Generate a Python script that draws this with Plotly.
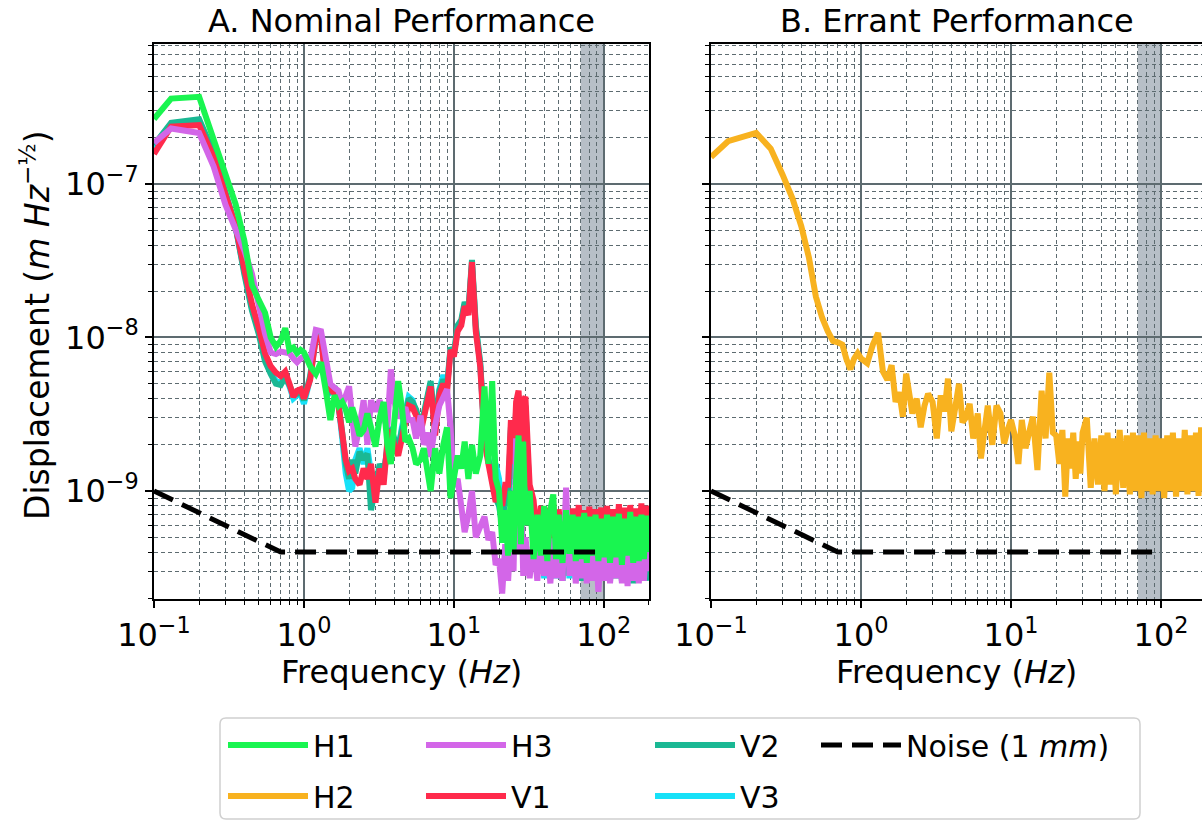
import math
import plotly.graph_objects as go

# ---------------- data ----------------
FREQ = [
    0.1, 0.13, 0.2, 0.25, 0.3, 0.35, 0.4, 0.45, 0.5, 0.55, 0.6, 0.65, 0.7, 0.75, 0.8,
    0.85, 0.9, 0.95, 1.0, 1.1, 1.2, 1.3, 1.4, 1.5, 1.6, 1.7, 1.8, 1.9, 2.0,
    2.1, 2.2, 2.35, 2.5, 2.65, 2.8, 3.0, 3.2, 3.4, 3.6, 3.8, 4.0, 4.25, 4.5, 4.75,
    5.0, 5.3, 5.6, 6.0, 6.3, 6.7, 7.0, 7.5, 8.0, 8.5, 9.0, 9.5, 10, 10.6, 11.2, 11.8,
    12.5, 13.2, 14, 15, 16, 17, 18, 19,
    20, 21, 22, 23, 24, 25, 26, 27, 28, 29, 30,
    32, 34, 36, 38, 40, 42, 44, 46, 48, 50,
    53, 56, 59, 62, 65, 68, 71, 74, 77, 80,
    84, 88, 92, 96, 100,
    105, 110, 115, 120,
    126, 132, 138, 144, 150,
    157, 164, 171, 178, 185, 192, 200,
]

H1 = [
    2.65e-7, 3.6e-7, 3.7e-7, 2.0e-7, 1.2e-7, 7.4e-8, 4.3e-8, 2.2e-8, 1.75e-8, 1.45e-8,
    1.0e-8, 8.7e-9, 9.5e-9, 1.15e-8, 8.3e-9, 8.6e-9, 7.9e-9, 8.3e-9, 8.0e-9, 6.5e-9,
    5.8e-9, 6.9e-9, 4.5e-9, 2.9e-9, 4.2e-9, 3.6e-9, 3.8e-9, 3.4e-9, 2.8e-9,
    3.5e-9, 3.0e-9, 2.3e-9, 2.5e-9, 3.2e-9, 2.6e-9, 1.95e-9, 3.0e-9, 3.8e-9, 2.0e-9,
    1.5e-9, 2.8e-9, 5.2e-9, 3.5e-9, 2.1e-9, 2.2e-9, 1.9e-9, 1.5e-9, 1.6e-9, 1.9e-9,
    1.3e-9, 1.0e-9, 1.9e-9, 1.3e-9, 2.0e-9, 2.6e-9, 9.0e-10, 1.3e-9, 1.7e-9, 1.4e-9,
    2.1e-9, 1.2e-9, 2.0e-9, 1.3e-9, 1.7e-9, 4.8e-9, 1.5e-9, 5.2e-9, 1.2e-9,
    1.0e-9, 4.6e-10, 7.5e-10, 3.8e-10, 1.0e-9, 4.0e-10, 1.2e-9, 2.3e-9, 4.5e-10, 2.1e-9, 6.0e-10,
    1.0e-9, 3.6e-10, 7.0e-10, 3.8e-10, 8.0e-10, 3.5e-10, 7.5e-10, 9.5e-10, 3.6e-10, 7.0e-10,
    3.4e-10, 7.5e-10, 3.9e-10, 7.0e-10, 3.5e-10, 6.8e-10, 3.6e-10, 7.2e-10, 3.4e-10, 6.8e-10,
    3.8e-10, 7.0e-10, 3.5e-10, 6.6e-10, 3.7e-10,
    7.0e-10, 3.4e-10, 6.8e-10, 3.7e-10,
    7.1e-10, 3.3e-10, 6.6e-10, 3.8e-10, 7.3e-10,
    3.4e-10, 6.8e-10, 3.5e-10, 7.0e-10, 3.6e-10, 6.9e-10, 4.0e-10,
]

H2 = [
    1.5e-7, 1.9e-7, 2.15e-7, 1.7e-7, 1.15e-7, 8.0e-8, 5.3e-8, 3.3e-8, 1.85e-8, 1.35e-8,
    1.1e-8, 9.5e-9, 9.3e-9, 9.0e-9, 7.2e-9, 6.2e-9, 7.3e-9, 7.9e-9, 7.3e-9, 6.8e-9,
    9.0e-9, 1.07e-8, 6.0e-9, 5.3e-9, 6.6e-9, 3.8e-9, 4.4e-9, 3.05e-9, 5.8e-9,
    4.0e-9, 3.2e-9, 4.0e-9, 2.6e-9, 3.6e-9, 4.3e-9, 3.8e-9, 2.2e-9, 4.2e-9, 3.3e-9,
    5.4e-9, 2.45e-9, 3.5e-9, 5.0e-9, 2.8e-9, 3.0e-9, 3.7e-9, 2.2e-9, 3.2e-9, 1.63e-9,
    2.6e-9, 3.6e-9, 2.0e-9, 3.6e-9, 3.2e-9, 2.04e-9, 2.5e-9, 2.9e-9, 2.3e-9, 1.5e-9,
    2.9e-9, 1.9e-9, 2.4e-9, 3.05e-9, 1.37e-9, 4.5e-9, 2.2e-9, 5.9e-9, 2.4e-9,
    2.3e-9, 1.5e-9, 2.5e-9, 9.2e-10, 2.2e-9, 1.4e-9, 2.4e-9, 1.2e-9, 2.1e-9, 1.3e-9, 2.4e-9,
    3.0e-9, 1.05e-9, 2.2e-9, 1.1e-9, 2.3e-9, 1.0e-9, 2.4e-9, 1.1e-9, 2.2e-9, 9.5e-10,
    2.5e-9, 1.05e-9, 2.3e-9, 9.5e-10, 2.4e-9, 1.0e-9, 2.3e-9, 9.0e-10, 2.4e-9, 1.0e-9,
    2.2e-9, 9.5e-10, 2.3e-9, 1.0e-9, 2.2e-9,
    9.0e-10, 2.3e-9, 1.0e-9, 2.4e-9,
    9.2e-10, 2.2e-9, 1.0e-9, 2.5e-9, 9.5e-10,
    2.3e-9, 1.0e-9, 2.4e-9, 9.3e-10, 2.6e-9, 1.0e-9, 2.7e-9,
]

H3 = [
    1.85e-7, 2.3e-7, 2.15e-7, 1.3e-7, 7.3e-8, 5.0e-8, 3.7e-8, 2.6e-8, 1.6e-8, 1.06e-8,
    8.0e-9, 7.8e-9, 8.1e-9, 8.0e-9, 7.9e-9, 7.3e-9, 6.9e-9, 7.3e-9, 7.5e-9, 7.0e-9,
    1.12e-8, 1.1e-8, 7.0e-9, 5.0e-9, 4.7e-9, 4.5e-9, 3.6e-9, 4.2e-9, 4.8e-9,
    3.0e-9, 1.95e-9, 2.6e-9, 3.9e-9, 2.0e-9, 3.9e-9, 3.3e-9, 3.9e-9, 3.0e-9, 2.6e-9,
    6.2e-9, 3.9e-9, 3.0e-9, 3.2e-9, 3.5e-9, 2.9e-9, 2.9e-9, 2.2e-9, 3.1e-9, 2.0e-9,
    2.4e-9, 1.67e-9, 2.7e-9, 3.6e-9, 4.2e-9, 4.6e-9, 2.6e-9, 1.07e-9, 1.2e-9, 7.9e-10,
    5.4e-10, 7.0e-10, 1.0e-9, 5.0e-10, 6.0e-10, 6.8e-10, 4.8e-10, 5.4e-10, 3.3e-10,
    3.6e-10, 2.15e-10, 4.5e-10, 2.6e-10, 5.5e-10, 3.0e-10, 2.2e-9, 4.0e-10, 1.2e-9, 2.8e-10, 5.0e-10,
    2.7e-10, 4.8e-10, 2.6e-10, 5.0e-10, 2.8e-10, 4.6e-10, 2.5e-10, 4.9e-10, 2.7e-10, 4.7e-10,
    2.6e-10, 1.05e-9, 2.8e-10, 5.0e-10, 2.5e-10, 4.6e-10, 2.7e-10, 4.8e-10, 2.5e-10, 4.5e-10,
    2.6e-10, 4.7e-10, 2.2e-10, 4.4e-10, 2.6e-10,
    4.8e-10, 2.5e-10, 4.6e-10, 2.7e-10,
    4.8e-10, 2.5e-10, 4.6e-10, 2.4e-10, 4.7e-10,
    2.6e-10, 4.5e-10, 2.5e-10, 4.8e-10, 2.6e-10, 4.6e-10, 3.0e-10,
]

V1 = [
    1.57e-7, 2.36e-7, 2.42e-7, 1.5e-7, 8.5e-8, 5.3e-8, 2.8e-8, 1.65e-8, 1.15e-8, 7.9e-9,
    6.5e-9, 5.9e-9, 5.6e-9, 6.0e-9, 5.0e-9, 4.1e-9, 4.5e-9, 4.6e-9, 4.0e-9, 5.3e-9,
    1.0e-8, 1.0e-8, 5.0e-9, 4.6e-9, 4.3e-9, 3.6e-9, 2.5e-9, 1.6e-9, 1.35e-9,
    1.4e-9, 1.2e-9, 1.1e-9, 1.4e-9, 1.2e-9, 1.5e-9, 8.4e-10, 1.4e-9, 1.1e-9, 2.1e-9,
    2.5e-9, 2.0e-9, 1.7e-9, 2.2e-9, 2.9e-9, 3.6e-9, 3.5e-9, 3.1e-9, 2.4e-9, 3.0e-9,
    3.9e-9, 4.8e-9, 2.3e-9, 4.2e-9, 5.0e-9, 4.4e-9, 8.3e-9, 7.5e-9, 1.1e-8, 1.2e-8,
    1.6e-8, 1.4e-8, 3.1e-8, 1.1e-8, 6.4e-9, 2.1e-9, 1.5e-9, 1.1e-9, 8.5e-10,
    1.0e-9, 8.0e-10, 1.1e-9, 1.1e-9, 2.9e-9, 1.5e-9, 3.8e-9, 4.5e-9, 2.0e-9, 3.9e-9, 4.1e-9,
    1.1e-9, 8.7e-10, 4.5e-10, 8.0e-10, 3.5e-10, 7.8e-10, 4.0e-10, 8.2e-10, 3.6e-10, 7.6e-10,
    4.2e-10, 8.0e-10, 3.8e-10, 7.7e-10, 4.0e-10, 8.1e-10, 3.7e-10, 7.5e-10, 3.9e-10, 7.9e-10,
    3.6e-10, 7.6e-10, 4.1e-10, 7.8e-10, 3.8e-10,
    8.0e-10, 3.7e-10, 7.6e-10, 4.0e-10,
    8.2e-10, 3.6e-10, 7.8e-10, 3.9e-10, 8.1e-10,
    3.7e-10, 7.7e-10, 4.0e-10, 8.3e-10, 3.8e-10, 8.0e-10, 6.0e-10,
]

V2 = [
    1.8e-7, 2.5e-7, 2.64e-7, 1.6e-7, 8.8e-8, 5.3e-8, 2.6e-8, 1.5e-8, 1.05e-8, 7.0e-9,
    5.8e-9, 5.0e-9, 4.9e-9, 5.5e-9, 4.9e-9, 4.3e-9, 4.3e-9, 4.5e-9, 3.9e-9, 5.6e-9,
    1.02e-8, 1.02e-8, 5.5e-9, 4.5e-9, 4.8e-9, 3.7e-9, 2.4e-9, 1.5e-9, 1.2e-9,
    1.6e-9, 1.3e-9, 1.8e-9, 1.6e-9, 1.75e-9, 7.5e-10, 1.1e-9, 1.5e-9, 1.3e-9, 1.9e-9,
    2.6e-9, 2.2e-9, 1.9e-9, 2.5e-9, 3.0e-9, 4.0e-9, 3.8e-9, 3.4e-9, 2.6e-9, 3.2e-9,
    4.2e-9, 5.2e-9, 2.6e-9, 4.5e-9, 5.3e-9, 4.8e-9, 8.6e-9, 7.9e-9, 1.2e-8, 1.3e-8,
    1.7e-8, 1.5e-8, 3.2e-8, 1.2e-8, 6.8e-9, 2.3e-9, 1.6e-9, 1.2e-9, 9.0e-10,
    8.0e-10, 6.0e-10, 9.0e-10, 8.0e-10, 2.6e-9, 1.2e-9, 3.4e-9, 4.2e-9, 1.8e-9, 3.5e-9, 3.6e-9,
    9.0e-10, 6.5e-10, 3.0e-10, 6.6e-10, 2.8e-10, 6.4e-10, 2.7e-10, 6.8e-10, 2.9e-10, 6.4e-10,
    2.6e-10, 6.6e-10, 2.8e-10, 6.3e-10, 2.7e-10, 6.5e-10, 2.6e-10, 6.7e-10, 2.8e-10, 6.2e-10,
    2.7e-10, 6.5e-10, 2.6e-10, 6.4e-10, 2.8e-10,
    6.6e-10, 2.6e-10, 6.3e-10, 2.7e-10,
    6.5e-10, 2.6e-10, 6.4e-10, 2.8e-10, 6.6e-10,
    2.5e-10, 6.3e-10, 2.7e-10, 6.5e-10, 2.6e-10, 6.4e-10, 2.6e-10,
]

V3 = [
    1.7e-7, 2.4e-7, 2.5e-7, 1.55e-7, 8.6e-8, 5.2e-8, 2.7e-8, 1.55e-8, 1.1e-8, 7.4e-9,
    6.0e-9, 5.2e-9, 5.1e-9, 5.6e-9, 4.8e-9, 4.0e-9, 4.2e-9, 4.3e-9, 3.7e-9, 5.4e-9,
    1.0e-8, 1.0e-8, 5.3e-9, 4.4e-9, 4.7e-9, 3.7e-9, 2.2e-9, 1.3e-9, 1.0e-9,
    1.05e-9, 1.6e-9, 1.9e-9, 1.5e-9, 1.9e-9, 1.3e-9, 1.0e-9, 1.4e-9, 1.2e-9, 2.0e-9,
    2.6e-9, 2.1e-9, 1.8e-9, 2.6e-9, 3.2e-9, 4.1e-9, 3.9e-9, 3.3e-9, 2.5e-9, 3.1e-9,
    4.0e-9, 5.0e-9, 2.5e-9, 4.6e-9, 5.7e-9, 4.7e-9, 8.4e-9, 7.7e-9, 1.15e-8, 1.25e-8,
    1.65e-8, 1.45e-8, 3.0e-8, 1.15e-8, 6.6e-9, 2.2e-9, 1.6e-9, 1.3e-9, 1.5e-9,
    1.2e-9, 6.5e-10, 9.5e-10, 8.5e-10, 2.5e-9, 1.1e-9, 3.3e-9, 4.0e-9, 1.7e-9, 3.4e-9, 3.5e-9,
    8.5e-10, 6.2e-10, 2.9e-10, 6.3e-10, 2.7e-10, 6.1e-10, 2.8e-10, 6.5e-10, 2.7e-10, 6.2e-10,
    2.8e-10, 6.4e-10, 2.7e-10, 6.1e-10, 2.8e-10, 6.3e-10, 2.7e-10, 6.4e-10, 2.7e-10, 6.0e-10,
    2.8e-10, 6.3e-10, 2.7e-10, 6.1e-10, 2.7e-10,
    6.4e-10, 2.7e-10, 6.1e-10, 2.8e-10,
    6.3e-10, 2.7e-10, 6.2e-10, 2.7e-10, 6.4e-10,
    2.6e-10, 6.1e-10, 2.8e-10, 6.3e-10, 2.7e-10, 6.2e-10, 2.7e-10,
]

NOISE_F = [0.1, 0.7, 100]
NOISE_V = [1e-9, 4e-10, 4e-10]

BAND = [70, 100]  # shaded frequency band (Hz)

X_TICKS = [0.1, 1, 10, 100]
X_TICKTEXT = ["10<sup>−1</sup>", "10<sup>0</sup>", "10<sup>1</sup>", "10<sup>2</sup>"]
Y_TICKS = [1e-9, 1e-8, 1e-7]
Y_TICKTEXT = ["10<sup>−9</sup>", "10<sup>−8</sup>", "10<sup>−7</sup>"]

for _name, _arr in [("H1", H1), ("H2", H2), ("H3", H3), ("V1", V1), ("V2", V2), ("V3", V3)]:
    assert len(_arr) == len(FREQ), (_name, len(_arr), len(FREQ))

# ---------------- styling ----------------
COLORS = {
    "H1": "#19F550", "H2": "#F8B21F", "H3": "#D366E8",
    "V1": "#FF2A4C", "V2": "#1AB894", "V3": "#17E1F8",
}
# legend columns (matplotlib fills column-wise: H1/H2 | H3/V1 | V2/V3 | Noise)
LEGEND_OF = {"H1": "legend", "H2": "legend", "H3": "legend2", "V1": "legend2",
             "V2": "legend3", "V3": "legend3", "Noise": "legend4"}
RANK = {"H1": 1, "H2": 2, "H3": 1, "V1": 2, "V2": 1, "V3": 2, "Noise": 1}
COL_LINE_X = {"legend": 230, "legend2": 428, "legend3": 657, "legend4": 823}
FONT = "DejaVu Sans"
GRID = "#5d6b70"
LW = 6
PL, PW, PH, PB = 154, 1048.0, 555.0, 599  # plot-area geometry in pixels

minor_x = [k * 10.0 ** e for e in (-1, 0, 1) for k in range(2, 10)] + [200]
minor_y = [k * 10.0 ** e for e in (-10, -9, -8, -7) for k in range(2, 10)]

fig = go.Figure()

for name, vals in [("V3", V3), ("V2", V2), ("V1", V1), ("H3", H3), ("H1", H1)]:
    fig.add_trace(go.Scatter(
        x=FREQ, y=vals, mode="lines", name=name,
        line=dict(color=COLORS[name], width=LW), legendgroup=name,
        legend=LEGEND_OF[name], legendrank=RANK[name], xaxis="x", yaxis="y"))

fig.add_trace(go.Scatter(
    x=FREQ, y=H2, mode="lines", name="H2", legendgroup="H2",
    line=dict(color=COLORS["H2"], width=LW),
    legend=LEGEND_OF["H2"], legendrank=RANK["H2"], xaxis="x2", yaxis="y2"))

for i, (xa, ya) in enumerate([("x", "y"), ("x2", "y2")]):
    fig.add_trace(go.Scatter(
        x=NOISE_F, y=NOISE_V, mode="lines", name="Noise (1 <i>mm</i>)",
        line=dict(color="black", width=5, dash="21px,10px"), legendgroup="Noise",
        legend=LEGEND_OF["Noise"], legendrank=RANK["Noise"], showlegend=(i == 0),
        xaxis=xa, yaxis=ya))

L_DOM = [0.0, 0.4723]
R_DOM = [0.5315, 1.0]
Y_RANGE = [-9.7036, -6.088]


def xaxis(domain, rng, anchor):
    return dict(
        type="log", domain=domain, range=rng, anchor=anchor,
        showline=True, linecolor="black", linewidth=1.5, mirror=True,
        ticks="outside", ticklen=7, tickwidth=1.5, tickcolor="black",
        tickmode="array", tickvals=X_TICKS, ticktext=X_TICKTEXT,
        tickfont=dict(family=FONT, size=32, color="black"),
        showgrid=True, gridcolor=GRID, gridwidth=1.5, zeroline=False,
        minor=dict(tickmode="array", tickvals=minor_x, ticks="outside", ticklen=4,
                   tickwidth=1.2, tickcolor="black", showgrid=True,
                   gridcolor=GRID, gridwidth=1.2, griddash="4px,3px"),
    )


def yaxis(anchor, labels, mirror):
    return dict(
        type="log", domain=[0, 1], range=Y_RANGE, anchor=anchor,
        showline=True, linecolor="black", linewidth=1.5, mirror=mirror,
        ticks="outside", ticklen=7, tickwidth=1.5, tickcolor="black",
        tickmode="array", tickvals=Y_TICKS, ticktext=Y_TICKTEXT,
        showticklabels=labels,
        tickfont=dict(family=FONT, size=32, color="black"),
        showgrid=True, gridcolor=GRID, gridwidth=1.5, zeroline=False,
        minor=dict(tickmode="array", tickvals=minor_y, ticks="outside", ticklen=4,
                   tickwidth=1.2, tickcolor="black", showgrid=True,
                   gridcolor=GRID, gridwidth=1.2, griddash="4px,3px"),
    )


def legend_col(key):
    return dict(
        orientation="v", xref="paper", yref="container",
        x=(COL_LINE_X[key] - 7 - PL) / PW, xanchor="left", y=1 - 719 / 822, yanchor="top",
        bgcolor="rgba(0,0,0,0)", borderwidth=0, itemwidth=80,
        font=dict(family=FONT, size=30, color="black"),
        traceorder="grouped", tracegroupgap=9,
    )


fig.update_layout(
    width=1202, height=822,
    margin=dict(l=PL, r=0, t=44, b=223, autoexpand=False),
    paper_bgcolor="white", plot_bgcolor="white",
    font=dict(family=FONT, size=30, color="black"),
    xaxis=xaxis(L_DOM, [-1, math.log10(200)], "y"),
    yaxis=yaxis("x", True, True),
    xaxis2=xaxis(R_DOM, [-1, 2.2733], "y2"),
    yaxis2=yaxis("x2", False, False),
    showlegend=True,
    legend=legend_col("legend"),
    legend2=legend_col("legend2"),
    legend3=legend_col("legend3"),
    legend4=legend_col("legend4"),
)

# shaded frequency band in both panels
for xr, yr in (("x", "y"), ("x2", "y2")):
    fig.add_shape(type="rect", xref=xr, yref=yr + " domain",
                  x0=BAND[0], x1=BAND[1], y0=0, y1=1,
                  fillcolor="rgba(112,128,144,0.5)", line=dict(width=0), layer="below")

# legend frame (rounded rectangle) in paper coordinates
bx0, bx1 = (220 - PL) / PW, (1140 - PL) / PW
by1, by0 = (PB - 718) / PH, (PB - 819) / PH
rx, ry = 6 / PW, 6 / PH
frame = (f"M {bx0 + rx},{by1} L {bx1 - rx},{by1} Q {bx1},{by1} {bx1},{by1 - ry} "
         f"L {bx1},{by0 + ry} Q {bx1},{by0} {bx1 - rx},{by0} L {bx0 + rx},{by0} "
         f"Q {bx0},{by0} {bx0},{by0 + ry} L {bx0},{by1 - ry} Q {bx0},{by1} {bx0 + rx},{by1} Z")
fig.add_shape(type="path", path=frame, xref="paper", yref="paper",
              line=dict(color="#d0d0d0", width=1.5), fillcolor="white", layer="below")

ann = []
for dom, title in [(L_DOM, "A. Nominal Performance"), (R_DOM, "B. Errant Performance")]:
    cx = (dom[0] + dom[1]) / 2
    ann.append(dict(text=title, x=cx, y=1, xref="paper", yref="paper", xanchor="center",
                    yanchor="bottom", yshift=2, showarrow=False, font=dict(size=32)))
    ann.append(dict(text="Frequency (<i>Hz</i>)", x=cx, y=(PB - 672) / PH, xref="paper",
                    yref="paper", xanchor="center", yanchor="middle", showarrow=False,
                    font=dict(size=32)))
ann.append(dict(text="Displacement (<i>m Hz</i><sup>−½</sup>)", x=(36 - PL) / PW,
                y=(PB - 325) / PH, xref="paper", yref="paper", xanchor="center",
                yanchor="middle", textangle=-90, showarrow=False, font=dict(size=33)))
fig.update_layout(annotations=ann)

fig.write_html("out.html", post_script="document.body.style.margin='0';")
